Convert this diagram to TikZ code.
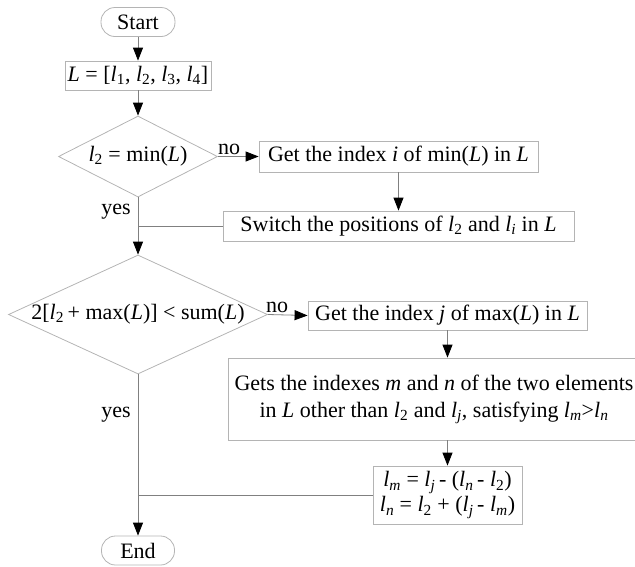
\documentclass[tikz,border=0pt]{standalone}
\usepackage{fontspec}
\setmainfont{Liberation Serif}
\usetikzlibrary{shapes.geometric,arrows.meta}
\definecolor{boxgray}{HTML}{B4B4B4}
\definecolor{linegray}{HTML}{808080}
\newcommand{\vi}[1]{\textit{#1}}
\newcommand{\sbs}[1]{\textsubscript{#1}}
\begin{document}
\begin{tikzpicture}[x=1pt,y=-1pt,
  every node/.style={font=\fontsize{22}{27}\selectfont},
  proc/.style={draw=boxgray,line width=0.8pt,rectangle,inner sep=0pt,align=center},
  term/.style={draw=boxgray,line width=0.8pt,rectangle,rounded corners=14pt,inner sep=0pt},
  dec/.style={draw=boxgray,line width=0.8pt,diamond,inner sep=0pt},
  conn/.style={draw=linegray,line width=0.8pt},
  arr/.style={conn,-{Triangle[length=13pt,width=10pt,color=black]}},
  lbl/.style={inner sep=0pt}
]
\useasboundingbox (0,0) rectangle (635,566);
\clip (0,0) rectangle (635,566);

\node[term,minimum width=74pt,minimum height=29pt] (start) at (138,22) {Start};
\node[proc,minimum width=146pt,minimum height=29pt] (init) at (138,75.5)
  {\vi{L} = [\vi{l}\sbs{1}, \vi{l}\sbs{2}, \vi{l}\sbs{3}, \vi{l}\sbs{4}]};
\node[dec,minimum width=159pt,minimum height=81pt,aspect=1.96] (d1) at (138,156.5)
  {\vi{l}\sbs{2} = min(\vi{L})};
\node[proc,minimum width=279pt,minimum height=31pt] (geti) at (398.5,156.5)
  {Get the index \vi{i} of min(\vi{L}) in \vi{L}};
\node[proc,minimum width=351pt,minimum height=30pt] (swap) at (398.5,226)
  {Switch the positions of \vi{l}\sbs{2} and \vi{l}\sbs{\vi{i}} in \vi{L}};
\node[dec,minimum width=259pt,minimum height=119pt,aspect=2.18] (d2) at (138,314.5)
  {2[\vi{l}\sbs{2}\,+ max(\vi{L})] < sum(\vi{L})};
\node[proc,minimum width=279pt,minimum height=29pt] (getj) at (447.5,315.5)
  {Get the index \vi{j} of max(\vi{L}) in \vi{L}};
\node[proc,minimum width=412pt,minimum height=82pt] (mn) at (434,399)
  {Gets the indexes \vi{m} and \vi{n} of the two elements\\
   in \vi{L} other than \vi{l}\sbs{2} and \vi{l}\sbs{\vi{j}}, satisfying \vi{l}\sbs{\vi{m}}>\vi{l}\sbs{\vi{n}}};
\node[proc,minimum width=149pt,minimum height=58pt,font=\fontsize{22}{25}\selectfont] (upd) at (447.5,495)
  {\vi{l}\sbs{\vi{m}} = \vi{l}\sbs{\vi{j}}\,- (\vi{l}\sbs{\vi{n}}\,- \vi{l}\sbs{2})\\
   \vi{l}\sbs{\vi{n}} = \vi{l}\sbs{2} + (\vi{l}\sbs{\vi{j}}\,- \vi{l}\sbs{\vi{m}})};
\node[term,minimum width=73pt,minimum height=29pt] (end) at (138,550.5) {End};

\coordinate (j1) at (138,226);
\coordinate (j2) at (138,495);

\draw[arr] (start) -- (init);
\draw[arr] (init) -- (d1);
\draw[arr] (d1.east) -- (geti.west);
\draw[arr] (geti) -- (swap);
\draw[conn] (d1.south) -- (j1);
\draw[conn] (swap.west) -- (j1);
\draw[arr] (j1) -- (d2.north);
\draw[arr] (d2.east) -- (getj.west);
\draw[arr] (getj.south) -- (getj.south |- mn.north);
\draw[arr] (upd.north |- mn.south) -- (upd.north);
\draw[conn] (d2.south) -- (j2);
\draw[conn] (upd.west) -- (j2);
\draw[arr] (j2) -- (end.north);

\node[lbl] at (229,149) {no};
\node[lbl] at (277,307) {no};
\node[lbl] at (116,212) {yes};
\node[lbl] at (116,415) {yes};
\end{tikzpicture}
\end{document}
